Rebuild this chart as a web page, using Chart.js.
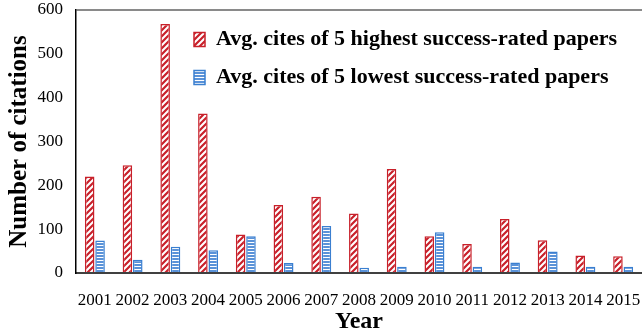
<!DOCTYPE html>
<html><head><meta charset="utf-8">
<script src="https://cdn.jsdelivr.net/npm/chart.js@4"></script>
<style>html,body{margin:0;padding:0;background:#fff}#wrap{width:642px;height:335px}</style>
</head><body><div id="wrap"><canvas id="c" width="642" height="335"></canvas></div>
<script>
const years = ['2001','2002','2003','2004','2005','2006','2007','2008','2009','2010','2011','2012','2013','2014','2015'];
const highCites = [220,246,568,364,88,155,174,136,237,84,66,123,75,40,38];
const lowCites = [74,30,60,52,84,23,107,12,14,93,14,24,49,14,14];
const yTickValues = [0,100,200,300,400,500,600];
const seriesLabels = ['Avg. cites of 5 highest success-rated papers','Avg. cites of 5 lowest success-rated papers'];

function hatchPattern(){
  const c = document.createElement('canvas'); c.width = 6; c.height = 6;
  const g = c.getContext('2d');
  g.fillStyle = '#fff'; g.fillRect(0,0,6,6);
  g.strokeStyle = '#c8202a'; g.lineWidth = 2.2;
  g.beginPath();
  g.moveTo(-1,7); g.lineTo(7,-1);
  g.moveTo(-4,4); g.lineTo(4,-4);
  g.moveTo(2,10); g.lineTo(10,2);
  g.stroke();
  return g.createPattern(c,'repeat');
}
function stripePattern(){
  const c = document.createElement('canvas'); c.width = 4; c.height = 3;
  const g = c.getContext('2d');
  g.fillStyle = '#fff'; g.fillRect(0,0,4,3);
  g.fillStyle = '#5a92d8'; g.fillRect(0,0,4,2);
  return g.createPattern(c,'repeat');
}

Chart.defaults.font.family = "'Liberation Serif', serif";
Chart.defaults.color = '#000';

const legendShift = {
  id: 'legendShift',
  afterLayout(chart){
    const lg = chart.legend;
    const pad = lg.options.labels.padding;
    lg.left = 194 - pad;
    lg.right = 642;
    lg.top = 28.5 - pad;
  }
};

function zeroPad(s){ s.paddingTop = 0; s.paddingBottom = 0; s.paddingLeft = 0; s.paddingRight = 0; }

new Chart(document.getElementById('c'), {
  type: 'bar',
  data: {
    labels: years,
    datasets: [
      { label: seriesLabels[0], data: highCites, backgroundColor: hatchPattern(), borderColor: '#c8202a', borderWidth: 1.5,
        categoryPercentage: 0.55, barPercentage: 0.92 },
      { label: seriesLabels[1], data: lowCites, backgroundColor: stripePattern(), borderColor: '#3a7fd0', borderWidth: 1.5,
        categoryPercentage: 0.55, barPercentage: 0.92 }
    ]
  },
  options: {
    responsive: false,
    devicePixelRatio: 1,
    animation: false,
    layout: { padding: { top: 10, right: 0, left: 0, bottom: 0 } },
    plugins: {
      tooltip: { enabled: false },
      legend: {
        position: 'chartArea',
        align: 'start',
        labels: {
          font: { size: 22, weight: 'bold' },
          color: '#000',
          boxWidth: 11,
          boxHeight: 14,
          padding: 16
        }
      }
    },
    scales: {
      x: {
        grid: { display: false },
        border: { color: '#404040', width: 2 },
        ticks: { font: { size: 17 }, color: '#000', padding: 9, maxRotation: 0, autoSkip: false },
        title: { display: true, text: 'Year', font: { size: 24, weight: 'bold' }, color: '#000', padding: { top: 0, bottom: -1 } },
        afterFit(s){ s.height = 62; zeroPad(s); }
      },
      y: {
        min: 0, max: 600,
        afterBuildTicks(s){ s.ticks = yTickValues.map(v => ({ value: v })); },
        grid: { drawTicks: false, lineWidth: 2, color: ctx => (ctx.tick && ctx.tick.value === 600) ? '#8a8a8a' : 'rgba(0,0,0,0)' },
        border: { color: '#000', width: 1.5 },
        ticks: { font: { size: 17 }, color: '#000', padding: 13 },
        title: { display: true, text: 'Number of citations', font: { size: 25, weight: 'bold' }, color: '#000', padding: { top: 5, bottom: 0 } },
        afterFit(s){ s.width = 76; zeroPad(s); }
      }
    }
  },
  plugins: [legendShift]
});
</script></body></html>
